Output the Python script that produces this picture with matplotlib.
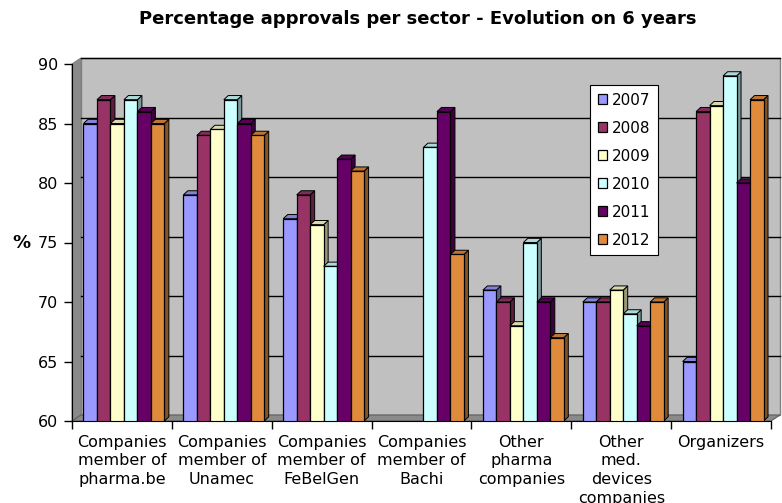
import numpy as np
import matplotlib
matplotlib.use("Agg")
import matplotlib.pyplot as plt
from matplotlib.patches import Polygon
from matplotlib import colors as mcolors
import matplotlib.transforms as mtrans

categories = ["Companies\nmember of\npharma.be", "Companies\nmember of\nUnamec",
              "Companies\nmember of\nFeBelGen", "Companies\nmember of\nBachi",
              "Other\npharma\ncompanies", "Other\nmed.\ndevices\ncompanies", "Organizers"]
years = ["2007", "2008", "2009", "2010", "2011", "2012"]
v2007 = [85, 79, 77, np.nan, 71, 70, 65]
v2008 = [87, 84, 79, np.nan, 70, 70, 86]
v2009 = [85, 84.5, 76.5, np.nan, 68, 71, 86.5]
v2010 = [87, 87, 73, 83, 75, 69, 89]
v2011 = [86, 85, 82, 86, 70, 68, 80]
v2012 = [85, 84, 81, 74, 67, 70, 87]
series = [v2007, v2008, v2009, v2010, v2011, v2012]
colors = ["#9999FF", "#993366", "#FFFFCC", "#CCFFFF", "#660066", "#E08A3C"]
yticks = [60, 65, 70, 75, 80, 85, 90]

W, H = 782, 503
fig = plt.figure(figsize=(W/100, H/100), dpi=100)
L, R, B, T = 72, 771, 421, 64
ax = fig.add_axes([L/W, 1-B/H, (R-L)/W, (B-T)/H])
ax.set_facecolor("none")
ax.set_zorder(2)
ax.set_xlim(-0.5, len(categories)-0.5)
ax.set_ylim(60, 90)

# 3D walls (decoration in display pixels)
ox, oy = 9, 6
def px(x, y):
    return (x, H - y)
back = Polygon([px(L+ox, B-oy), px(R+ox, B-oy), px(R+ox, T-oy), px(L+ox, T-oy)],
               closed=True, transform=None, facecolor="#C0C0C0", edgecolor="#808080",
               lw=1.0, zorder=-2)
leftw = Polygon([px(L, B), px(L+ox, B-oy), px(L+ox, T-oy), px(L, T)], closed=True,
                transform=None, facecolor="#8A8A8A", edgecolor="#808080", lw=0.8, zorder=-2)
floor = Polygon([px(L, B), px(R, B), px(R+ox, B-oy), px(L+ox, B-oy)], closed=True,
                transform=None, facecolor="#8A8A8A", edgecolor="#606060", lw=0.8, zorder=-2)
for p in (back, leftw, floor):
    fig.patches.append(p)

off = mtrans.ScaledTranslation(ox/100, oy/100, fig.dpi_scale_trans)
for v in yticks[1:]:
    ax.plot([-0.5, len(categories)-0.5], [v, v], color="black", lw=1.0,
            transform=ax.transData + off, zorder=1, clip_on=False)

n = len(series)
w = 0.135
dx, dy = 0.045, 0.35
x = np.arange(len(categories))

def shade(c, f):
    r, g, b = mcolors.to_rgb(c)
    return (r*f, g*f, b*f)

for i, (vals, col) in enumerate(zip(series, colors)):
    xs = x + 0.02 + (i - (n-1)/2) * w
    for xc, v in zip(xs, vals):
        if np.isnan(v):
            continue
        x0, x1 = xc - w/2, xc + w/2
        ax.add_patch(Polygon([(x1, 60), (x1+dx, 60+dy), (x1+dx, v+dy), (x1, v)],
                             closed=True, facecolor=shade(col, 0.6), edgecolor="black",
                             lw=0.7, zorder=3+i))
        ax.add_patch(Polygon([(x0, v), (x1, v), (x1+dx, v+dy), (x0+dx, v+dy)],
                             closed=True, facecolor=shade(col, 0.85), edgecolor="black",
                             lw=0.7, zorder=3+i))
    ax.bar(xs, vals, width=w, color=col, edgecolor="black", lw=0.9, zorder=3+i,
           label=years[i])

ax.set_yticks(yticks)
ax.set_yticklabels([str(t) for t in yticks], fontsize=11.5)
ax.set_xticks(np.arange(-0.5, len(categories)), minor=True)
ax.set_xticks(x)
ax.set_xticklabels(categories, fontsize=11.5, linespacing=1.3)
ax.tick_params(axis="x", which="major", length=0, pad=10)
ax.tick_params(axis="x", which="minor", length=6, width=1, color="black")
ax.tick_params(axis="y", length=6, width=1, pad=4)
for s in ("top", "right"):
    ax.spines[s].set_visible(False)
ax.spines["left"].set_color("black")
ax.spines["bottom"].set_color("black")
ax.spines["bottom"].set_zorder(20)

ax.set_ylabel("%", fontsize=13, fontweight="bold", rotation=0, labelpad=12, va="center")

leg = ax.legend(loc="upper left", bbox_to_anchor=((590-L)/(R-L), (B-85)/(B-T)),
                fontsize=11, handlelength=0.6, handleheight=0.6, handletextpad=0.3,
                labelspacing=0.85, frameon=True, fancybox=False, borderpad=0.5,
                borderaxespad=0, framealpha=1)
leg.get_frame().set_edgecolor("black")
leg.get_frame().set_facecolor("white")
leg.get_frame().set_linewidth(0.8)
leg.set_zorder(30)
for h in leg.legend_handles:
    h.set_edgecolor("black")

fig.text(418/W, 1-19/H, "Percentage approvals per sector - Evolution on 6 years",
         ha="center", va="center", fontsize=13, fontweight="bold")

fig.savefig("out.png", dpi=100)
